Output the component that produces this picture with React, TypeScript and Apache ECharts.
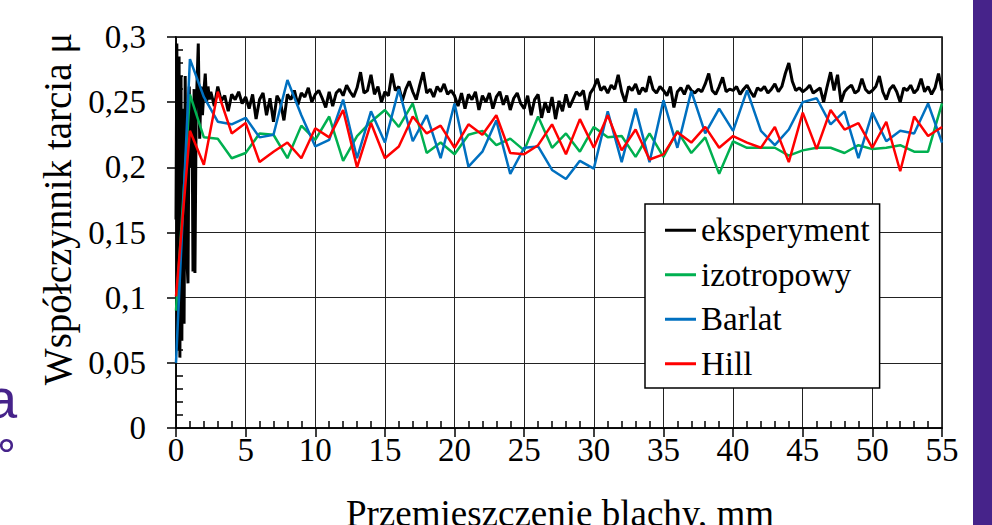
import React, { useEffect, useRef } from "react";
import * as echarts from "echarts";

const FONT = "'Liberation Serif', 'Times New Roman', serif";

const SERIES_NAMES = ["eksperyment", "izotropowy", "Barlat", "Hill"];
const COLORS = ["#000000", "#00B050", "#0070C0", "#FF0000"];

const X_AXIS_TITLE = "Przemieszczenie blachy, mm";
const Y_AXIS_TITLE = "Współczynnik tarcia μ";
const Y_TICK_VALUES = [0, 0.05, 0.1, 0.15, 0.2, 0.25, 0.3];
const Y_TICK_LABELS = ["0", "0,05", "0,1", "0,15", "0,2", "0,25", "0,3"];

// model series sampled every 1 mm (x = index, mm)
const izotropowy = [
  0.09, 0.256, 0.223, 0.222, 0.207, 0.211, 0.226, 0.225, 0.207, 0.232,
  0.221, 0.239, 0.205, 0.224, 0.235, 0.244, 0.231, 0.249, 0.211, 0.219,
  0.21, 0.225, 0.228, 0.217, 0.222, 0.213, 0.239, 0.215, 0.226, 0.212,
  0.231, 0.223, 0.224, 0.208, 0.226, 0.208, 0.228, 0.211, 0.223, 0.195,
  0.22, 0.215, 0.215, 0.215, 0.209, 0.213, 0.215, 0.215, 0.211, 0.217,
  0.214, 0.215, 0.217, 0.212, 0.212, 0.249,
];
const barlat = [
  0.05, 0.283, 0.254, 0.235, 0.233, 0.238, 0.223, 0.225, 0.267, 0.24,
  0.216, 0.221, 0.252, 0.207, 0.243, 0.219, 0.26, 0.22, 0.24, 0.207,
  0.249, 0.2005, 0.212, 0.236, 0.195, 0.215, 0.216, 0.198, 0.191, 0.205,
  0.199, 0.243, 0.204, 0.245, 0.204, 0.2515, 0.215, 0.2585, 0.226, 0.245,
  0.228, 0.259, 0.228, 0.217, 0.229, 0.25, 0.253, 0.233, 0.243, 0.207,
  0.242, 0.22, 0.228, 0.226, 0.249, 0.219,
];
const hill = [
  0.101, 0.228, 0.202, 0.258, 0.226, 0.234, 0.204, 0.212, 0.219, 0.207,
  0.23, 0.223, 0.244, 0.2, 0.234, 0.207, 0.216, 0.239, 0.226, 0.232,
  0.215, 0.233, 0.225, 0.24, 0.211, 0.21, 0.217, 0.233, 0.21, 0.237,
  0.215, 0.24, 0.213, 0.229, 0.206, 0.21, 0.227, 0.219, 0.231, 0.215,
  0.224, 0.219, 0.215, 0.231, 0.204, 0.242, 0.214, 0.244, 0.229, 0.234,
  0.215, 0.235, 0.197, 0.239, 0.224, 0.231,
];

// experiment: start-up transient (explicit x, mm)
const expEarlyX = [
  0, 0.06, 0.14, 0.22, 0.28, 0.36, 0.42, 0.5, 0.58, 0.66, 0.74, 0.86, 0.95,
  1.05, 1.15, 1.22, 1.3, 1.36, 1.45, 1.6, 1.7, 1.8, 1.9, 2.0, 2.1, 2.2, 2.3, 2.4,
];
const expEarlyY = [
  0.16, 0.295, 0.06, 0.285, 0.054, 0.27, 0.067, 0.245, 0.08, 0.27, 0.14, 0.111,
  0.262, 0.2, 0.25, 0.12, 0.26, 0.119, 0.245, 0.295, 0.222, 0.262, 0.24, 0.258,
  0.272, 0.25, 0.262, 0.252,
];
// experiment: steady part, sampled every 0.25 mm from 2.5 mm
const EXP_START = 2.5;
const EXP_STEP = 0.25;
const expSteady = [
  0.258, 0.247, 0.262, 0.251, 0.255, 0.243, 0.256, 0.252, 0.258, 0.249,
  0.254, 0.245, 0.256, 0.237, 0.252, 0.257, 0.24, 0.253, 0.235, 0.255,
  0.25, 0.236, 0.256, 0.252, 0.259, 0.248, 0.257, 0.254, 0.261, 0.25,
  0.256, 0.259, 0.253, 0.246, 0.258, 0.247, 0.257, 0.26, 0.255, 0.263,
  0.258, 0.254, 0.261, 0.273, 0.257, 0.259, 0.271, 0.256, 0.262, 0.25,
  0.258, 0.255, 0.272, 0.259, 0.262, 0.251, 0.26, 0.266, 0.258, 0.252,
  0.263, 0.273, 0.257, 0.26, 0.254, 0.262, 0.258, 0.264, 0.256, 0.259,
  0.255, 0.247, 0.257, 0.245, 0.256, 0.252, 0.258, 0.244, 0.255, 0.25,
  0.257, 0.245, 0.254, 0.258, 0.248, 0.255, 0.244, 0.253, 0.257, 0.249,
  0.245, 0.255, 0.24, 0.252, 0.256, 0.238, 0.25, 0.242, 0.254, 0.237,
  0.251, 0.243, 0.256, 0.246, 0.252, 0.258, 0.255, 0.259, 0.244, 0.257,
  0.261, 0.268, 0.259, 0.262, 0.257, 0.263, 0.26, 0.271, 0.258, 0.25,
  0.262, 0.259, 0.264, 0.256, 0.261, 0.258, 0.27, 0.26, 0.257, 0.262,
  0.259, 0.255, 0.262, 0.246, 0.258, 0.261, 0.256, 0.263, 0.259, 0.257,
  0.26, 0.258, 0.264, 0.272, 0.259, 0.256, 0.262, 0.269, 0.258, 0.26,
  0.259, 0.262, 0.256, 0.26, 0.263, 0.258, 0.254, 0.261, 0.259, 0.262,
  0.257, 0.26, 0.264, 0.258, 0.262, 0.272, 0.28, 0.266, 0.259, 0.261,
  0.258, 0.26, 0.263, 0.257, 0.259, 0.261, 0.25, 0.262, 0.273, 0.259,
  0.271, 0.25, 0.258, 0.261, 0.263, 0.257, 0.259, 0.268, 0.26, 0.257,
  0.259, 0.262, 0.27, 0.258, 0.252, 0.26, 0.263, 0.258, 0.25, 0.261,
  0.259, 0.263, 0.257, 0.26, 0.268, 0.258, 0.262, 0.256, 0.261, 0.272,
  0.259,
];

const PURPLE = "#46238A";

export default function App() {
  const ref = useRef<HTMLDivElement>(null);

  useEffect(() => {
    if (!ref.current) return;
    const chart = echarts.init(ref.current, null, { renderer: "svg" });

    const expData: number[][] = expEarlyX.map((x, i) => [x, expEarlyY[i]]);
    expSteady.forEach((v, i) => {
      expData.push([+(EXP_START + i * EXP_STEP).toFixed(2), v]);
    });
    const toPairs = (arr: number[]) => arr.map((v, i) => [i, v]);
    const seriesData = [expData, toPairs(izotropowy), toPairs(barlat), toPairs(hill)];

    const yLabel = (v: number) => {
      const idx = Y_TICK_VALUES.findIndex((t) => Math.abs(t - v) < 1e-6);
      return idx >= 0 ? Y_TICK_LABELS[idx] : String(v).replace(".", ",");
    };

    const tickStyle = { color: "#000", width: 1.5 };

    chart.setOption({
      animation: false,
      backgroundColor: "#ffffff",
      grid: {
        left: 176,
        right: 50,
        top: 37,
        bottom: 97,
        show: true,
        borderColor: "#000",
        borderWidth: 1.5,
        backgroundColor: "transparent",
        outerBoundsMode: "none",
      },
      xAxis: [
        {
          type: "value",
          min: 0,
          max: 55,
          interval: 5,
          position: "bottom",
          axisLine: { show: true, onZero: false, lineStyle: tickStyle },
          axisTick: { show: true, inside: false, length: 9, lineStyle: tickStyle },
          axisLabel: { color: "#000", fontFamily: FONT, fontSize: 33, margin: 5 },
          splitLine: { show: true, lineStyle: { color: "#222", width: 1 } },
        },
        {
          type: "value",
          min: 0,
          max: 55,
          interval: 5,
          position: "bottom",
          axisLine: { show: false, onZero: false },
          axisTick: { show: false, inside: true },
          axisLabel: { show: false },
          splitLine: { show: false },
          minorTick: { show: true, splitNumber: 5, length: 7, lineStyle: tickStyle },
        },
      ],
      yAxis: [
        {
          type: "value",
          min: 0,
          max: 0.3,
          interval: 0.05,
          position: "left",
          axisLine: { show: true, onZero: false, lineStyle: tickStyle },
          axisTick: { show: true, inside: false, length: 9, lineStyle: tickStyle },
          axisLabel: {
            color: "#000",
            fontFamily: FONT,
            fontSize: 33,
            margin: 30,
            formatter: yLabel,
          },
          splitLine: { show: true, lineStyle: { color: "#222", width: 1 } },
        },
        {
          type: "value",
          min: 0,
          max: 0.3,
          interval: 0.05,
          position: "left",
          axisLine: { show: false, onZero: false },
          axisTick: { show: false, inside: true },
          axisLabel: { show: false },
          splitLine: { show: false },
          minorTick: { show: true, splitNumber: 5, length: 7, lineStyle: tickStyle },
        },
      ],
      legend: {
        orient: "vertical",
        left: 645,
        top: 204,
        data: SERIES_NAMES,
        icon: "rect",
        itemWidth: 31,
        itemHeight: 3,
        itemGap: 0,
        padding: [4, 10, 2, 20],
        borderColor: "#000",
        borderWidth: 1.5,
        backgroundColor: "#fff",
        textStyle: { fontFamily: FONT, fontSize: 33, color: "#000", lineHeight: 44.5 },
      },
      series: SERIES_NAMES.map((name, i) => ({
        name,
        type: "line",
        xAxisIndex: 0,
        yAxisIndex: 0,
        data: seriesData[i],
        symbol: "none",
        showSymbol: false,
        color: COLORS[i],
        lineStyle: { color: COLORS[i], width: i === 0 ? 3 : 2.5 },
        z: 2 + i,
      })),
      graphic: [
        {
          type: "rect",
          shape: { x: 973, y: 0, width: 19, height: 525 },
          style: { fill: PURPLE },
          silent: true,
        },
        {
          type: "text",
          x: -14,
          y: 398,
          style: {
            text: "a",
            fontFamily: "'Liberation Sans', Arial, sans-serif",
            fontSize: 56,
            fill: PURPLE,
            align: "left",
            verticalAlign: "middle",
          },
          silent: true,
        },
        {
          type: "circle",
          shape: { cx: 6.5, cy: 445.5, r: 5.3 },
          style: { fill: "none", stroke: PURPLE, lineWidth: 2.5 },
          silent: true,
        },
        {
          type: "text",
          x: 57,
          y: 209,
          rotation: Math.PI / 2,
          style: {
            text: Y_AXIS_TITLE,
            fontFamily: FONT,
            fontSize: 39,
            fill: "#000",
            align: "center",
            verticalAlign: "middle",
          },
          silent: true,
        },
        {
          type: "text",
          x: 560,
          y: 495,
          style: {
            text: X_AXIS_TITLE,
            fontFamily: FONT,
            fontSize: 37,
            fill: "#000",
            align: "center",
            verticalAlign: "top",
          },
          silent: true,
        },
      ],
    });

    return () => chart.dispose();
  }, []);

  return (
    <div
      ref={ref}
      style={{ position: "fixed", left: 0, top: 0, width: 992, height: 525, background: "#fff" }}
    />
  );
}
